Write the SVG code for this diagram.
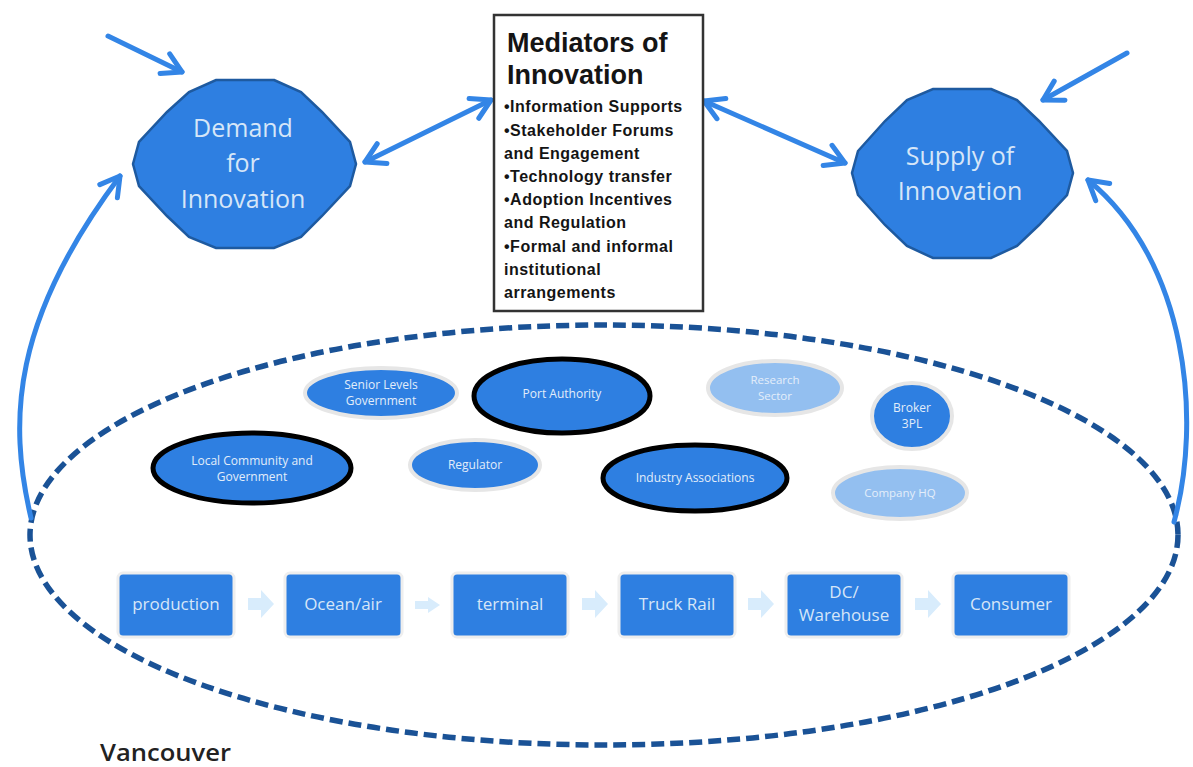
<svg xmlns="http://www.w3.org/2000/svg" width="1193" height="767" viewBox="0 0 1193 767">
<style>
.poly{fill:#2E7FE1;stroke:#1E5AA0;stroke-width:2.5}
.bigt{font-family:"Open Sans","Noto Sans",sans-serif;font-size:25px;fill:#D6E6F8;text-anchor:middle}
.ell{fill:#2E7FE1;stroke:#E6E6E6;stroke-width:4}
.ellb{fill:#2E7FE1;stroke:#000;stroke-width:5}
.elll{fill:#93BFF0;stroke:#E6E6E6;stroke-width:4}
.et{font-family:"Open Sans","Noto Sans",sans-serif;font-size:12px;fill:#E2EDFA;text-anchor:middle}
.etl{font-family:"Open Sans","Noto Sans",sans-serif;font-size:11.5px;fill:#E4EEFA;text-anchor:middle}
.box{fill:#2E7FE1;stroke:#EEEEEE;stroke-width:3}
.bt{font-family:"Open Sans","Noto Sans",sans-serif;font-size:17px;fill:#D6E6F8;text-anchor:middle}
.pa{fill:#D8ECFC}
.med{font-family:"Liberation Sans","Arial",sans-serif;font-weight:bold;fill:#141414}
.conn{fill:none;stroke:#3385E6;stroke-width:5;stroke-linecap:round}
</style>
<defs>
<marker id="ah" viewBox="0 0 28 28" refX="24" refY="14" markerWidth="28" markerHeight="28" markerUnits="userSpaceOnUse" orient="auto-start-reverse">
<path d="M5,3 L24,14 L5,25" fill="none" stroke="#3385E6" stroke-width="5" stroke-linecap="round" stroke-linejoin="round"/>
</marker>
</defs>
<rect width="1193" height="767" fill="#FFFFFF"/>

<g id="boundary">
<ellipse cx="604" cy="535" rx="574" ry="210" fill="none" stroke="#1A5296" stroke-width="5.5" stroke-dasharray="13 6"/>
</g>

<g id="connectors">
<line class="conn" x1="108" y1="36" x2="182" y2="72" marker-end="url(#ah)"/>
<line class="conn" x1="1127" y1="53" x2="1043" y2="100" marker-end="url(#ah)"/>
<line class="conn" x1="365" y1="162" x2="491" y2="100" marker-start="url(#ah)" marker-end="url(#ah)"/>
<line class="conn" x1="704" y1="101" x2="845" y2="163" marker-start="url(#ah)" marker-end="url(#ah)"/>
<path class="conn" d="M31,518 C8,420 12,320 120,176" marker-end="url(#ah)"/>
<path class="conn" d="M1174,522 C1202,420 1188,262 1088,180" marker-end="url(#ah)"/>
</g>

<g id="demand">
<polygon class="poly" points="274,80 301,92 322,112 350,142 356,164 350,186 322,216 301,237 274,248 216,248 189,237 167,216 139,186 133,164 139,142 167,112 189,92 216,80"/>
<text class="bigt" x="243" y="137">Demand</text>
<text class="bigt" x="243" y="172">for</text>
<text class="bigt" x="243" y="208">Innovation</text>
</g>

<g id="supply">
<polygon class="poly" points="991,89 1017,100 1039,121 1067,151 1073,173 1067,195 1039,225 1017,246 991,258 933,258 907,246 885,225 858,195 852,173 858,151 885,121 907,100 933,89"/>
<text class="bigt" x="960" y="165">Supply of</text>
<text class="bigt" x="960" y="200">Innovation</text>
</g>

<g id="mediators">
<rect x="494" y="15" width="209" height="296" fill="#FFFFFF" stroke="#333333" stroke-width="2.5"/>
<text class="med" x="507" y="52" font-size="27">Mediators of</text>
<text class="med" x="507" y="84" font-size="27">Innovation</text>
<text class="med" x="504" y="112" font-size="16" letter-spacing="0.5">•Information Supports</text>
<text class="med" x="504" y="136" font-size="16" letter-spacing="0.5">•Stakeholder Forums</text>
<text class="med" x="504" y="159" font-size="16" letter-spacing="0.5">and Engagement</text>
<text class="med" x="504" y="182" font-size="16" letter-spacing="0.5">•Technology transfer</text>
<text class="med" x="504" y="205" font-size="16" letter-spacing="0.5">•Adoption Incentives</text>
<text class="med" x="504" y="228" font-size="16" letter-spacing="0.5">and Regulation</text>
<text class="med" x="504" y="252" font-size="16" letter-spacing="0.5">•Formal and informal</text>
<text class="med" x="504" y="275" font-size="16" letter-spacing="0.5">institutional</text>
<text class="med" x="504" y="298" font-size="16" letter-spacing="0.5">arrangements</text>
</g>

<g id="senior-gov">
<ellipse class="ell" cx="381" cy="393" rx="76" ry="25"/>
<text class="et" x="381" y="389">Senior Levels</text>
<text class="et" x="381" y="405">Government</text>
</g>
<g id="port-authority">
<ellipse class="ellb" cx="562" cy="396" rx="88" ry="37"/>
<text class="et" x="562" y="398">Port Authority</text>
</g>
<g id="research">
<ellipse class="elll" cx="775" cy="388" rx="67" ry="27"/>
<text class="etl" x="775" y="384">Research</text>
<text class="etl" x="775" y="400">Sector</text>
</g>
<g id="broker">
<ellipse class="ell" cx="912" cy="416" rx="40" ry="33"/>
<text class="et" x="912" y="412">Broker</text>
<text class="et" x="912" y="428">3PL</text>
</g>
<g id="local-community">
<ellipse class="ellb" cx="252" cy="468" rx="99" ry="35"/>
<text class="et" x="252" y="465">Local Community and</text>
<text class="et" x="252" y="481">Government</text>
</g>
<g id="regulator">
<ellipse class="ell" cx="475" cy="465" rx="65" ry="25"/>
<text class="et" x="475" y="469">Regulator</text>
</g>
<g id="industry">
<ellipse class="ellb" cx="695" cy="478" rx="92" ry="33"/>
<text class="et" x="695" y="482">Industry Associations</text>
</g>
<g id="company-hq">
<ellipse class="elll" cx="900" cy="493" rx="67" ry="26"/>
<text class="etl" x="900" y="497">Company HQ</text>
</g>

<g id="process-arrows">
<polygon class="pa" points="248,598 261,598 261,590 274,604 261,618 261,610 248,610"/>
<polygon class="pa" points="415,601 428,601 428,597 440,605 428,613 428,609 415,609"/>
<polygon class="pa" points="582,598 595,598 595,590 608,604 595,618 595,610 582,610"/>
<polygon class="pa" points="748,598 761,598 761,590 774,604 761,618 761,610 748,610"/>
<polygon class="pa" points="915,598 928,598 928,590 941,604 928,618 928,610 915,610"/>
</g>

<g id="production">
<rect class="box" x="118" y="573" width="116" height="64" rx="5"/>
<text class="bt" x="176" y="610">production</text>
</g>
<g id="ocean-air">
<rect class="box" x="285" y="573" width="117" height="64" rx="5"/>
<text class="bt" x="343" y="610">Ocean/air</text>
</g>
<g id="terminal">
<rect class="box" x="452" y="573" width="116" height="64" rx="5"/>
<text class="bt" x="510" y="610">terminal</text>
</g>
<g id="truck-rail">
<rect class="box" x="619" y="573" width="116" height="64" rx="5"/>
<text class="bt" x="677" y="610">Truck Rail</text>
</g>
<g id="dc-warehouse">
<rect class="box" x="786" y="573" width="116" height="64" rx="5"/>
<text class="bt" x="844" y="598">DC/</text>
<text class="bt" x="844" y="621">Warehouse</text>
</g>
<g id="consumer">
<rect class="box" x="953" y="573" width="116" height="64" rx="5"/>
<text class="bt" x="1011" y="610">Consumer</text>
</g>

<text x="100" y="761" font-family="Open Sans, Noto Sans, sans-serif" font-weight="600" font-size="23" fill="#222222" textLength="131" lengthAdjust="spacingAndGlyphs">Vancouver</text>
</svg>
